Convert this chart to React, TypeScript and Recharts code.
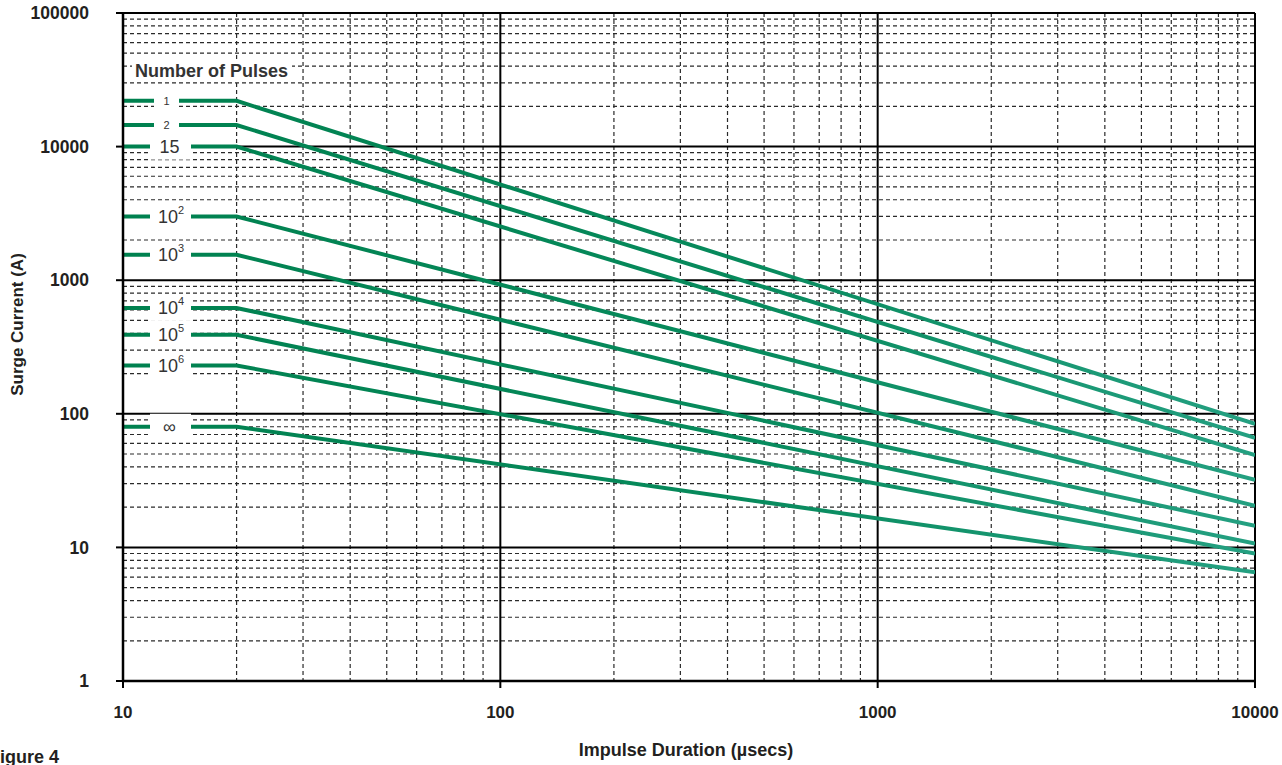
import { LineChart, Line, XAxis, YAxis, CartesianGrid } from 'recharts';

// number of pulses, top curve first
const PULSES = ['1', '2', '15', '10^2', '10^3', '10^4', '10^5', '10^6', '∞'];
// impulse duration (µs): every curve is flat up to 20 µs, then straight (log-log) to 10000 µs
const DURATION = [10, 20, 10000];
// surge current (A) on the flat part
const CURRENT_FLAT = [22000, 14500, 10000, 3000, 1550, 620, 390, 230, 80];
// surge current (A) at 10000 µs
const CURRENT_END = [84, 66, 49, 32, 20.5, 14.5, 10.7, 9, 6.5];

const X_TICKS = [10, 100, 1000, 10000];
const Y_TICKS = [1, 10, 100, 1000, 10000, 100000];
const MINOR = [2, 3, 4, 5, 6, 7, 8, 9];

const X_MINOR = X_TICKS.slice(0, -1).flatMap(d => MINOR.map(m => d * m));
const Y_MINOR = Y_TICKS.slice(0, -1).flatMap(d => MINOR.map(m => d * m));

const data = DURATION.map((t, i) => {
  const row: Record<string, number> = { t };
  PULSES.forEach((_, k) => {
    row[`p${k}`] = i < 2 ? CURRENT_FLAT[k] : CURRENT_END[k];
  });
  return row;
});

const FONT = '"Liberation Sans", Arial, Helvetica, sans-serif';
const TEXT = '#231f20';

function PulseLabel({ x, y, index, text }: { x?: number; y?: number; index?: number; text: string }) {
  if (index !== 0 || x == null || y == null) return null;
  const small = text === '1' || text === '2';
  const [base, exp] = text.split('^');

  if (small) {
    return (
      <g>
        <rect x={x + 31} y={y - 10} width={25} height={20} fill="#fff" />
        <text x={x + 43.5} y={y + 3.8} textAnchor="middle" fontSize={11} fill="#333" fontFamily={FONT}>
          {text}
        </text>
      </g>
    );
  }

  return (
    <g>
      <rect x={x + 27} y={y - 13} width={41} height={26} fill="#fff" />
      {exp ? (
        <text x={x + 35} y={y + 6.5} fontSize={18} fill="#333" fontFamily={FONT}>
          {base}
          <tspan dy={-9} fontSize={11}>{exp}</tspan>
        </text>
      ) : (
        <text x={x + 46.5} y={y + 6.5} textAnchor="middle" fontSize={18} fill="#333" fontFamily={FONT}>
          {base}
        </text>
      )}
    </g>
  );
}

export default function App() {
  return (
    <div style={{ position: 'absolute', left: 0, top: 0, width: 1282, height: 765, overflow: 'hidden', background: '#fff' }}>
      <LineChart width={1282} height={765} data={data} margin={{ top: 13, right: 27, left: 0, bottom: 0 }}>
        <defs>
          <linearGradient id="pulseGrad" gradientUnits="userSpaceOnUse" x1={123} y1={0} x2={1255} y2={0}>
            <stop offset="0%" stopColor="#00814f" />
            <stop offset="55%" stopColor="#078a5c" />
            <stop offset="100%" stopColor="#24a081" />
          </linearGradient>
        </defs>
        <CartesianGrid
          horizontalValues={Y_MINOR}
          verticalValues={X_MINOR}
          stroke="#2a2a2a"
          strokeWidth={1.2}
          strokeDasharray="4 3"
        />
        <CartesianGrid horizontalValues={Y_TICKS} verticalValues={X_TICKS} stroke="#000" strokeWidth={2} />
        <XAxis
          dataKey="t"
          type="number"
          scale="log"
          domain={[10, 10000]}
          ticks={X_TICKS}
          interval={0}
          allowDataOverflow
          height={84}
          tickSize={7}
          tickMargin={18}
          axisLine={{ stroke: '#000', strokeWidth: 2.5 }}
          tickLine={{ stroke: '#000', strokeWidth: 2 }}
          tick={{ fontSize: 17, fontWeight: 700, fill: TEXT, fontFamily: FONT }}
        />
        <YAxis
          type="number"
          scale="log"
          domain={[1, 100000]}
          ticks={Y_TICKS}
          interval={0}
          allowDataOverflow
          width={123}
          tickSize={7}
          tickMargin={27}
          axisLine={{ stroke: '#000', strokeWidth: 2.5 }}
          tickLine={{ stroke: '#000', strokeWidth: 2 }}
          tick={{ fontSize: 17.5, fontWeight: 700, fill: TEXT, fontFamily: FONT }}
        />
        {PULSES.map((p, k) => (
          <Line
            key={p}
            type="linear"
            dataKey={`p${k}`}
            stroke="url(#pulseGrad)"
            strokeWidth={4}
            dot={false}
            activeDot={false}
            isAnimationActive={false}
            label={(props: { x?: number; y?: number; index?: number }) => (
              <PulseLabel key={`l${k}-${props.index}`} x={props.x} y={props.y} index={props.index} text={p} />
            )}
          />
        ))}
      </LineChart>

      <svg
        width={1282}
        height={765}
        style={{ position: 'absolute', left: 0, top: 0, pointerEvents: 'none' }}
        fontFamily={FONT}
      >
        <rect x={132} y={62} width={160} height={19} fill="#fff" />
        <text x={135} y={77} fontSize={18} fontWeight={700} fill="#333">Number of Pulses</text>
        <text
          transform="translate(17,324.5) rotate(-90)"
          textAnchor="middle"
          dominantBaseline="central"
          fontSize={17}
          fontWeight={700}
          fill={TEXT}
        >
          Surge Current (A)
        </text>
        <text x={686} y={756} textAnchor="middle" fontSize={18} fontWeight={700} fill={TEXT}>
          Impulse Duration (µsecs)
        </text>
        <text x={-11} y={762.7} fontSize={18} fontWeight={700} fill={TEXT}>Figure 4</text>
      </svg>
    </div>
  );
}
